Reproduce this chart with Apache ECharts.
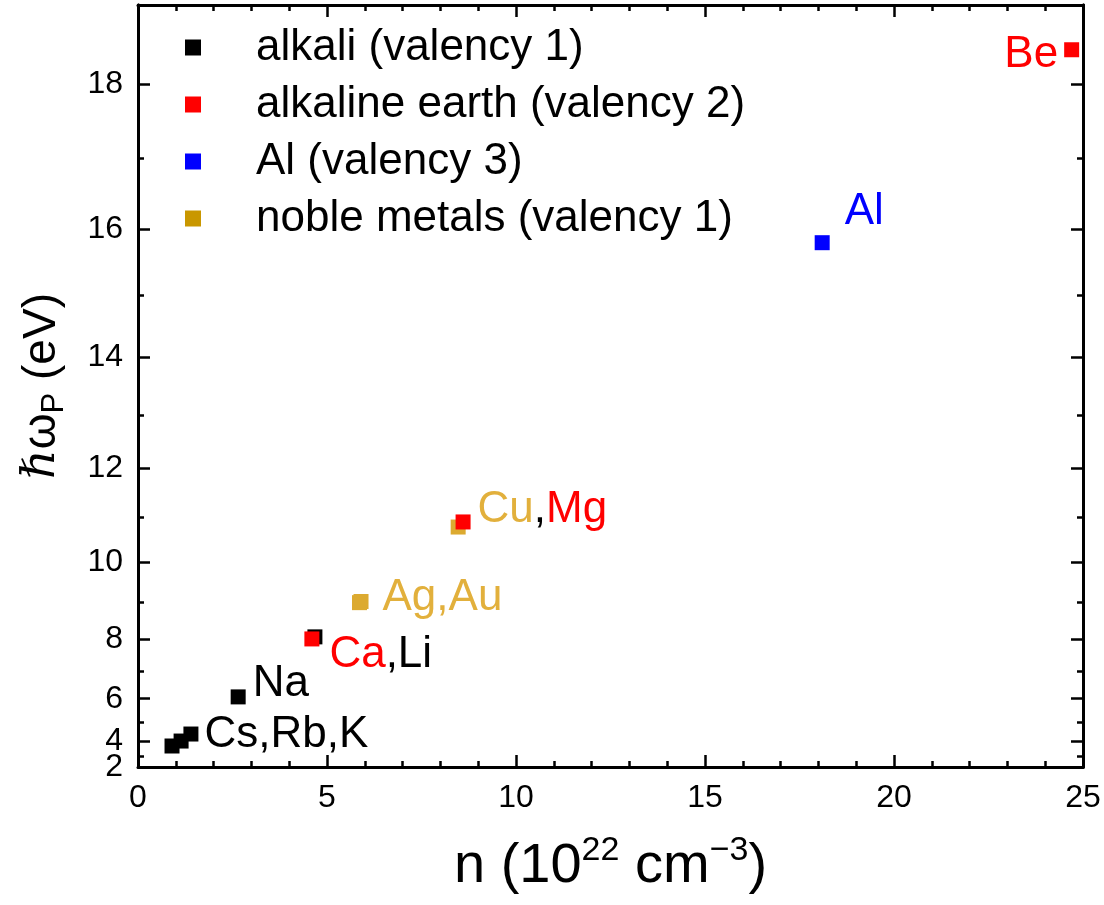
<!DOCTYPE html>
<html>
<head>
<meta charset="utf-8">
<script src="https://cdn.jsdelivr.net/npm/echarts@6/dist/echarts.min.js"></script>
<style>html,body{margin:0;padding:0;background:#fff}#c{width:1104px;height:905px}</style>
</head>
<body>
<div id="c"></div>
<script>
// ---- data (n in 1e22 cm^-3, plasmon energy in eV) ----
const alkaliNames = ['Cs', 'Rb', 'K', 'Na', 'Li'];
const alkaliN = [0.90, 1.14, 1.40, 2.65, 4.68];
const alkaliE = [3.72, 4.02, 4.41, 6.07, 8.06];

const earthNames = ['Ca', 'Mg', 'Be'];
const earthN = [4.60, 8.60, 24.7];
const earthE = [8.00, 10.90, 18.44];

const alNames = ['Al'];
const alN = [18.1];
const alE = [15.8];

const nobleNames = ['Ag', 'Au', 'Cu'];
const nobleN = [5.86, 5.90, 8.47];
const nobleE = [9.00, 9.03, 10.79];

const seriesNames = ['alkali (valency 1)', 'alkaline earth (valency 2)', 'Al (valency 3)', 'noble metals (valency 1)'];
const xTicks = [0, 5, 10, 15, 20, 25];
const yMajorTicks = [2, 4, 6, 8, 10, 12, 14, 16, 18];
const yMinorTicks = [3, 5, 7, 9, 11, 13, 15, 17, 19];
const yLabelsMain = [4, 6, 8, 10, 12, 14, 16, 18];
const yLabelsBottom = [2];
const yMin = 2, yMax = 19;

// ---- styling ----
const BLACK = '#000000', RED = '#ff0000', BLUE = '#0000ff', GOLD = '#dcaa30', GOLD_LEG = '#c99700', GOLD_TXT = '#e2b03c';
const FONT = "'Liberation Sans', Arial, 'DejaVu Sans', sans-serif";
const LBL = 44;
const TICKFS = 32;
const sq = v => v * v;

const labelRich = {
  k: {color: BLACK, fontSize: LBL, fontFamily: FONT},
  r: {color: RED, fontSize: LBL, fontFamily: FONT},
  b: {color: BLUE, fontSize: LBL, fontFamily: FONT},
  g: {color: GOLD_TXT, fontSize: LBL, fontFamily: FONT}
};
// annotation text + placement per point name
const annot = {
  K:  {text: '{k|Cs,Rb,K}', position: 'right', distance: 6, offset: [0, 1]},
  Na: {text: '{k|Na}', position: 'right', distance: 7, offset: [0, -13]},
  Li: {text: '{r|Ca}{k|,Li}', position: 'right', distance: 7, offset: [0, 18]},
  Au: {text: '{g|Ag,Au}', position: 'right', distance: 14, offset: [0, -4]},
  Mg: {text: '{g|Cu}{k|,}{r|Mg}', position: 'right', distance: 7, offset: [0, -12]},
  Al: {text: '{b|Al}', position: 'right', distance: 15, offset: [0, -31]},
  Be: {text: '{r|Be}', position: 'left', distance: 6, offset: [0, 5]}
};

function build(names, ns, es) {
  return names.map((nm, i) => {
    const item = {name: nm, value: [ns[i], sq(es[i])]};
    const a = annot[nm];
    if (a) {
      item.label = {show: true, formatter: a.text, position: a.position, distance: a.distance, offset: a.offset, rich: labelRich};
    }
    return item;
  });
}

const axisLineStyle = {color: BLACK, width: 3};
const tickStyle = {color: BLACK, width: 2.5};

function yAxisDef(pos, values, len, labels) {
  return {
    type: 'value', position: pos, offset: 0, min: sq(yMin), max: sq(yMax),
    axisLine: {show: true, onZero: false, lineStyle: axisLineStyle},
    axisTick: {show: true, inside: true, length: len, lineStyle: tickStyle, customValues: values.map(sq)},
    axisLabel: labels ? {show: true, customValues: labels.map(sq), formatter: v => String(Math.round(Math.sqrt(v))),
      fontSize: TICKFS, color: BLACK, fontFamily: FONT, margin: 15, showMinLabel: true, showMaxLabel: true, hideOverlap: false} : {show: false},
    splitLine: {show: false}
  };
}

const chart = echarts.init(document.getElementById('c'));
chart.setOption({
  animation: false,
  backgroundColor: '#fff',
  grid: {left: 138, right: 21, top: 5, bottom: 138, containLabel: false},
  legend: {
    orient: 'vertical', left: 185, top: 19, padding: 0, itemGap: 0,
    itemWidth: 16, itemHeight: 16, icon: 'rect',
    textStyle: {fontSize: 44, color: BLACK, fontFamily: FONT, lineHeight: 57, padding: [0, 0, 0, 50]},
    data: [
      {name: seriesNames[0], itemStyle: {color: BLACK}},
      {name: seriesNames[1], itemStyle: {color: RED}},
      {name: seriesNames[2], itemStyle: {color: BLUE}},
      {name: seriesNames[3], itemStyle: {color: GOLD_LEG}}
    ]
  },
  xAxis: [
    {
      type: 'value', position: 'bottom', min: 0, max: 25, interval: 5,
      axisLine: {show: true, onZero: false, lineStyle: axisLineStyle},
      axisTick: {show: true, inside: true, length: 12, lineStyle: tickStyle},
      minorTick: {show: true, splitNumber: 5, length: 6, lineStyle: tickStyle},
      axisLabel: {fontSize: TICKFS, color: BLACK, fontFamily: FONT, margin: 15, customValues: xTicks},
      splitLine: {show: false},
      name: '{a|n (10}{s|22}{a| cm}{s|−3}{a|)}',
      nameLocation: 'middle', nameGap: 67,
      nameTextStyle: {
        rich: {
          a: {fontSize: 56, fontFamily: FONT, color: BLACK, lineHeight: 66},
          s: {fontSize: 34, fontFamily: FONT, color: BLACK, lineHeight: 40, verticalAlign: 'top'}
        }
      }
    },
    {
      type: 'value', position: 'top', min: 0, max: 25, interval: 5,
      axisLine: {show: true, onZero: false, lineStyle: axisLineStyle},
      axisTick: {show: true, inside: true, length: 12, lineStyle: tickStyle},
      minorTick: {show: true, splitNumber: 5, length: 6, lineStyle: tickStyle},
      axisLabel: {show: false}, splitLine: {show: false}
    }
  ],
  yAxis: [
    Object.assign(yAxisDef('left', yMajorTicks, 12, yLabelsMain), {
      name: '{h|ℏ}{w|ω}{p|P}{a| (eV)}',
      nameLocation: 'middle', nameRotate: 90, nameGap: 68,
      nameTextStyle: {
        rich: {
          h: {fontSize: 46, fontFamily: "'DejaVu Serif', serif", fontStyle: 'italic', color: BLACK, lineHeight: 56},
          w: {fontSize: 46, fontFamily: FONT, color: BLACK, lineHeight: 56},
          p: {fontSize: 31, fontFamily: FONT, color: BLACK, lineHeight: 30, verticalAlign: 'bottom'},
          a: {fontSize: 46, fontFamily: FONT, color: BLACK, lineHeight: 56}
        }
      }
    }),
    yAxisDef('left', yMinorTicks, 6, yLabelsBottom),
    yAxisDef('right', yMajorTicks, 12, null),
    yAxisDef('right', yMinorTicks, 6, null)
  ],
  series: [
    {name: seriesNames[0], type: 'scatter', symbol: 'rect', symbolSize: 15, z: 3,
      itemStyle: {color: BLACK, opacity: 1}, data: build(alkaliNames, alkaliN, alkaliE)},
    {name: seriesNames[1], type: 'scatter', symbol: 'rect', symbolSize: 15, z: 5,
      itemStyle: {color: RED, opacity: 1}, data: build(earthNames, earthN, earthE)},
    {name: seriesNames[2], type: 'scatter', symbol: 'rect', symbolSize: 15, z: 4,
      itemStyle: {color: BLUE, opacity: 1}, data: build(alNames, alN, alE)},
    {name: seriesNames[3], type: 'scatter', symbol: 'rect', symbolSize: 15, z: 2,
      itemStyle: {color: GOLD, opacity: 1}, data: build(nobleNames, nobleN, nobleE)}
  ]
});
</script>
</body>
</html>
